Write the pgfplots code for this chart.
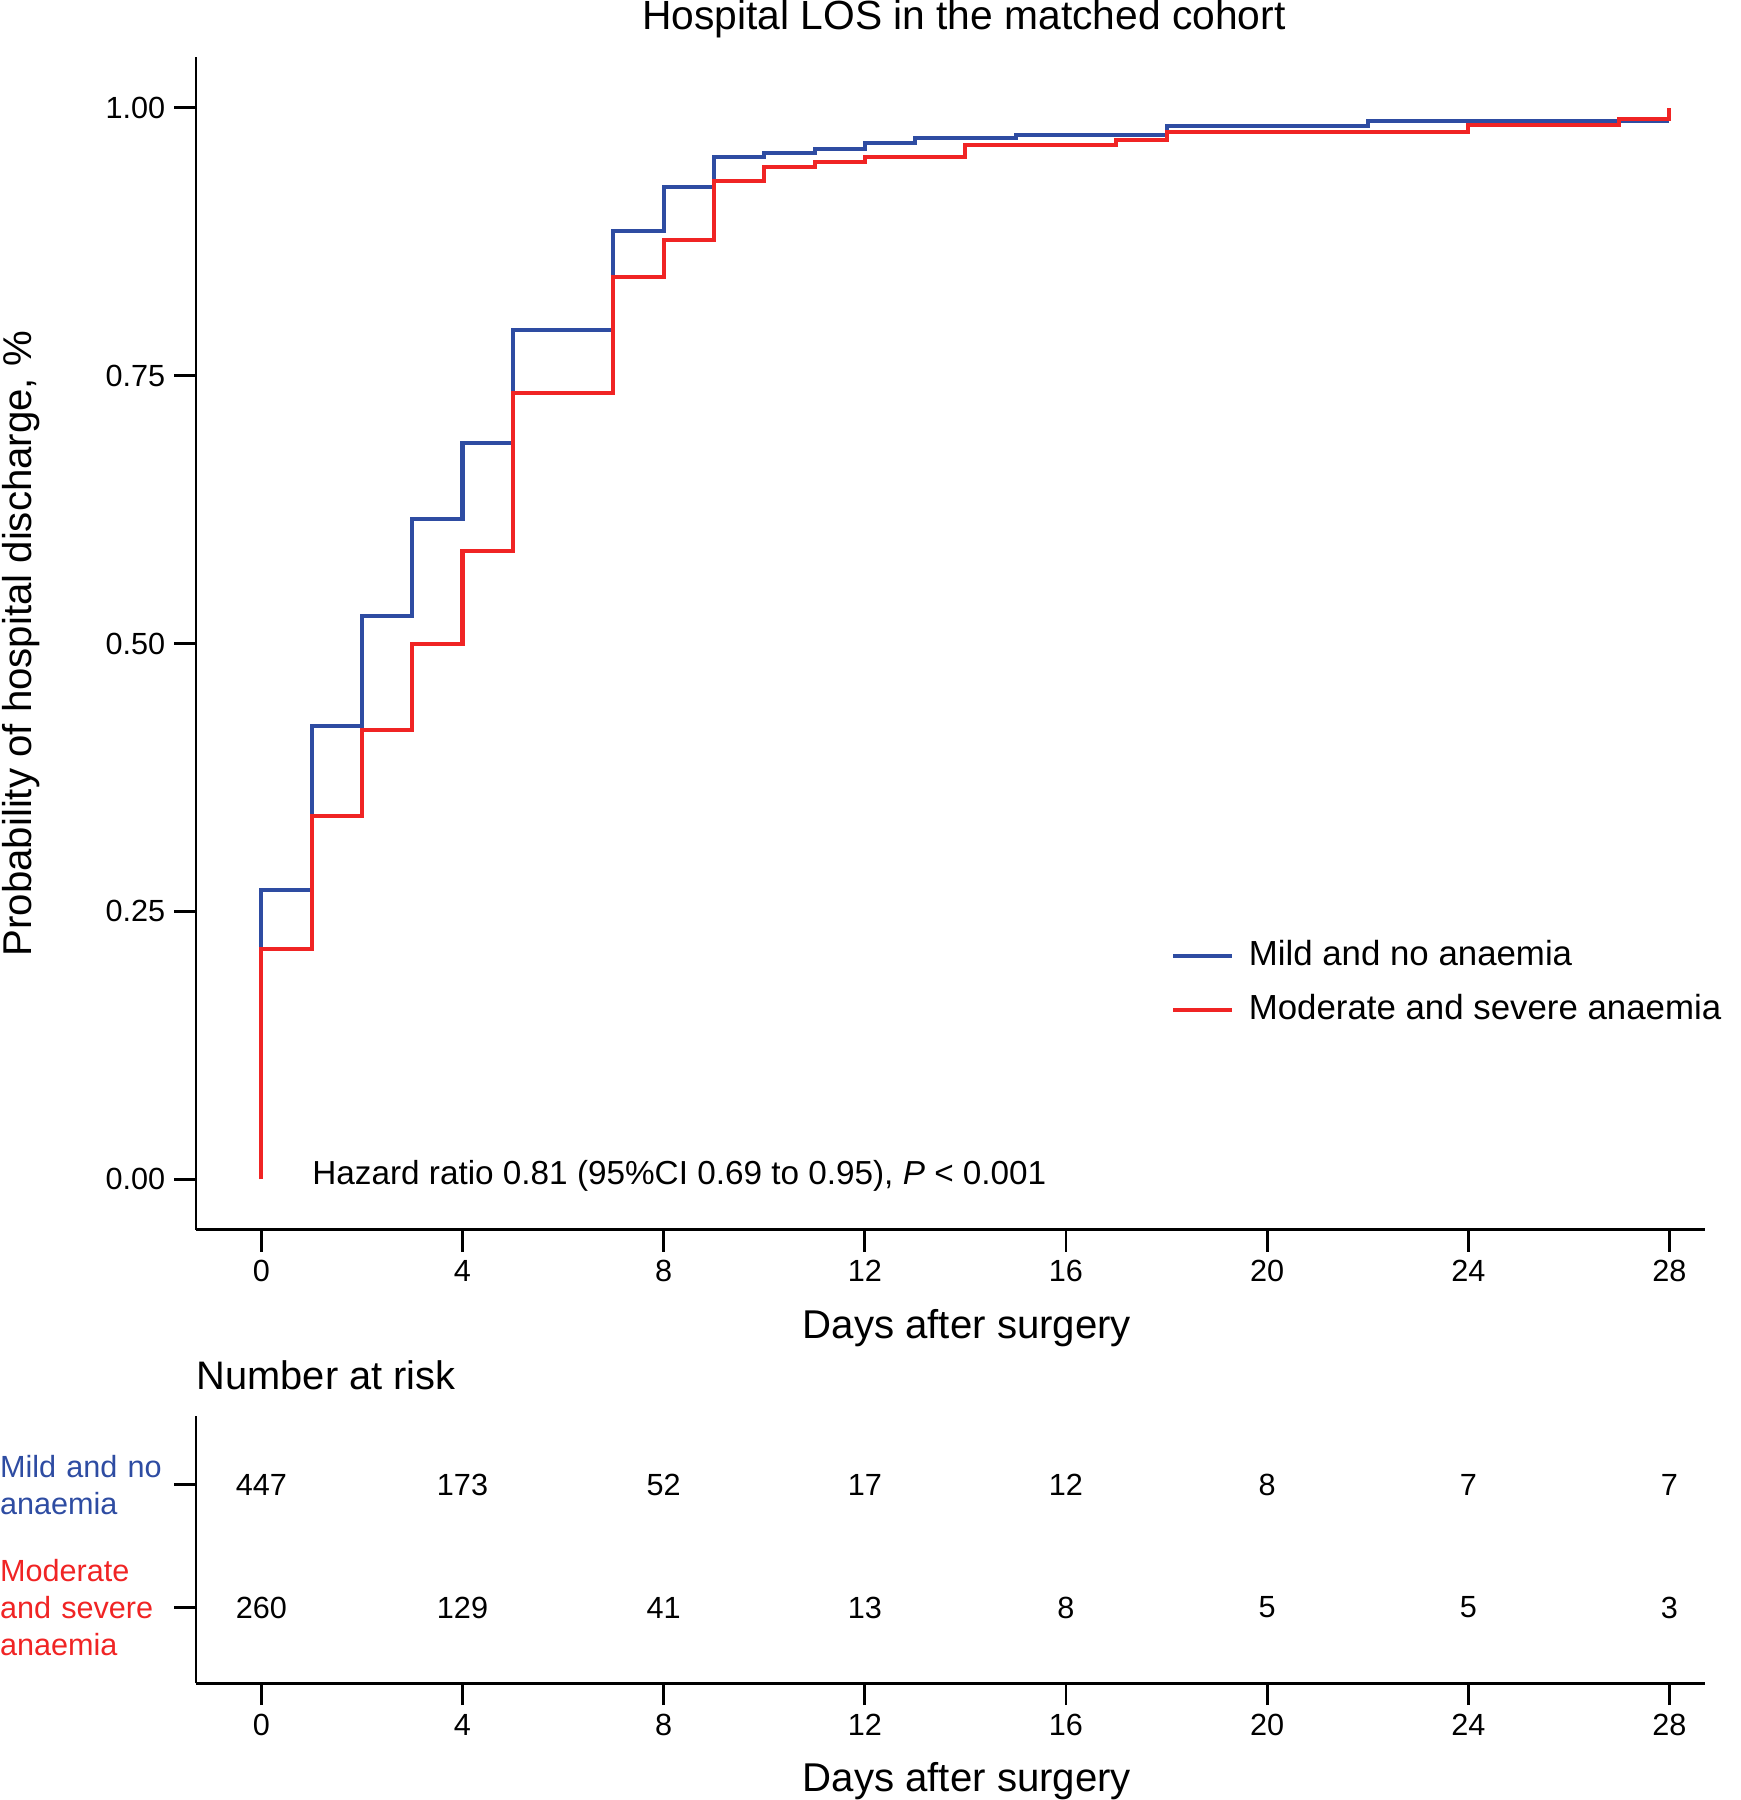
\documentclass[border=0pt]{standalone}
\usepackage{fontspec}
\setmainfont{Liberation Sans}
\usepackage{pgfplots}
\pgfplotsset{compat=1.18}
\definecolor{mildblue}{RGB}{46,76,162}
\definecolor{modred}{RGB}{240,36,36}

\pgfplotstableread{
x y
0 0
0 0.270
1 0.423
2 0.526
3 0.616
4 0.687
5 0.793
7 0.885
8 0.926
9 0.954
10 0.958
11 0.962
12 0.967
13 0.972
15 0.975
18 0.983
22 0.988
28 0.988
}\mildtab

\pgfplotstableread{
x y
0 0
0 0.215
1 0.339
2 0.419
3 0.500
4 0.586
5 0.734
7 0.842
8 0.877
9 0.932
10 0.945
11 0.949
12 0.954
14 0.965
17 0.970
18 0.977
24 0.984
27 0.990
28 0.990
28 1.000
}\modtab

\pgfplotstableread{
x y n
0 2 447
4 2 173
8 2 52
12 2 17
16 2 12
20 2 8
24 2 7
28 2 7
0 1 260
4 1 129
8 1 41
12 1 13
16 1 8
20 1 5
24 1 5
28 1 3
}\risktab

\begin{document}
\begin{tikzpicture}
\pgfplotsset{
 kmbase/.style={
  scale only axis, width=394.2pt,
  xmin=-1.3, xmax=28.7,
  axis x line*=bottom, axis y line*=left,
  axis line style={-, line width=0.75pt, black},
  tick style={line width=0.75pt, black},
  tick align=outside, major tick length=5.7pt,
  xtick={0,4,...,28},
  /pgf/number format/assume math mode=true,
  ticklabel style={font=\fontsize{8}{9.6}\selectfont},
  xticklabel style={yshift=1.2pt},
  xlabel={Days after surgery},
  xlabel style={font=\fontsize{10.5}{12}\selectfont, inner sep=0pt, at={(axis description cs:0.511,0)}, anchor=center, yshift=-25.6pt},
  clip=false,
 }
}
\begin{axis}[kmbase, at={(0,0)}, height=306.3pt,
  ymin=-0.0472, ymax=1.047,
  ytick={0,0.25,0.5,0.75,1},
  yticklabel style={xshift=1.2pt, /pgf/number format/.cd, fixed, fixed zerofill, precision=2},
  ylabel={Probability of hospital discharge, \%},
  ylabel style={font=\fontsize{10.5}{12}\selectfont, inner sep=0pt, at={(axis description cs:-0.1157,0.5)}, anchor=center},
  title={Hospital LOS in the matched cohort},
  title style={font=\fontsize{10.65}{12}\selectfont, inner sep=0pt, at={(axis description cs:0.509,1)}, anchor=base, yshift=1.3pt},
  legend style={at={(axis description cs:0.646,0.254)}, anchor=north west, draw=none, fill=none,
    font=\fontsize{9.1}{11}\selectfont, row sep=2pt, inner sep=0pt},
  legend cell align=left,
  legend image code/.code={\draw[#1] (0pt,0pt) -- (15.3pt,0pt); \path (17.2pt,0pt);},
]
\addplot[const plot, mildblue, line width=1.05pt] table {\mildtab};
\addlegendentry{Mild and no anaemia}
\addplot[const plot, modred, line width=1.05pt] table {\modtab};
\addlegendentry{Moderate and severe anaemia}
\node[anchor=base west, inner sep=0pt, font=\fontsize{8.7}{10}\selectfont] at (axis cs:1,-0.005) {Hazard ratio 0.81 (95\%CI 0.69 to 0.95), \textit{P} < 0.001};
\path (rel axis cs:1,0) ++(9.3pt,0pt);
\end{axis}

\begin{axis}[kmbase, at={(0,-118.5pt)}, height=69.9pt,
  ymin=0.383, ymax=2.561,
  ytick={1,2},
  yticklabels={{\color{modred}Moderate\\and severe\\anaemia},{\color{mildblue}Mild and no\\anaemia}},
  yticklabel style={align=left, text width=45.3pt, inner sep=0pt, font=\fontsize{8}{9.6}\selectfont},
]
\addplot[draw=none, mark=none, nodes near coords, point meta=explicit symbolic,
  nodes near coords style={anchor=center, font=\fontsize{8}{9.6}\selectfont, text=black}] table[meta=n] {\risktab};
\node[anchor=base west, inner sep=0pt, font=\fontsize{10.4}{12}\selectfont] at (rel axis cs:0,1) [yshift=6.9pt] {Number at risk};
\end{axis}
\end{tikzpicture}
\end{document}
